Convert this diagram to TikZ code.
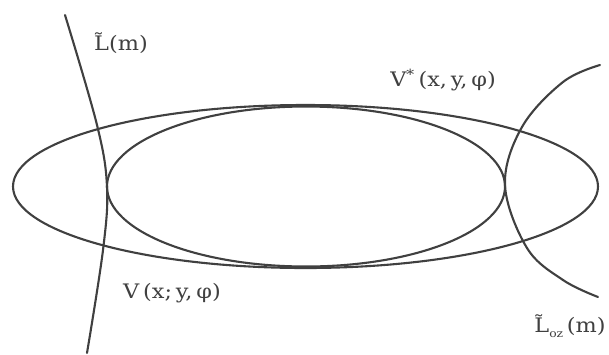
\documentclass[tikz,border=0pt]{standalone}
\usepackage{fontspec}
\setmainfont{DejaVu Serif}
\begin{document}
\begin{tikzpicture}[x=1pt,y=-1pt,
  curve/.style={draw=ink,line width=2.1pt,line cap=round},
  lab/.style={text=ink,inner sep=0pt,xscale=1.12,font=\fontsize{20}{24}\selectfont}]
\definecolor{ink}{rgb}{0.25,0.25,0.25}
\useasboundingbox[fill=white] (0,0) rectangle (609,354);
% ellipses
\draw[curve] (305.5,186.5) ellipse [x radius=292.5, y radius=81.5];
\draw[curve] (306,186.5) ellipse [x radius=199, y radius=80];
% left curve L(m)
\draw[curve] plot[smooth,tension=0.6] coordinates {(65,15) (97,125) (107,187) (103,250) (87,353)};
% right curve Loz(m)
\draw[curve] plot[smooth,tension=0.6] coordinates {(600,65) (563,82) (522,127) (505,185) (527,248) (563,280) (598,297)};
% labels
\node[lab] (lm) at (121,43) {\~{L}(m)};
\node[lab] (vstar) at (443,80) {V\textsuperscript{*}\,(x,\,y,\,φ)};
\node[lab] (v) at (172,293) {V\,(x;\,y,\,φ)};
\node[lab] (loz) at (570,326) {\~{L}\raisebox{-0.45ex}{\fontsize{11}{13}\selectfont oz}\,(m)};
\end{tikzpicture}
\end{document}
